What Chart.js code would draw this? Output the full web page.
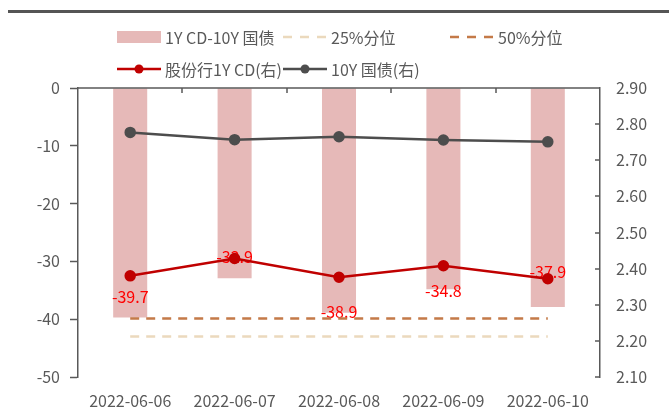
<!DOCTYPE html>
<html>
<head>
<meta charset="utf-8">
<script src="https://cdn.jsdelivr.net/npm/chart.js@4"></script>
<style>
  body { margin: 0; background: #fff; font-family: "Noto Sans CJK SC", "Noto Sans", sans-serif; }
  #wrap { position: relative; width: 669px; height: 408px; overflow: hidden; }
  canvas { position: absolute; left: 0; top: 0; }
  #topline { position: absolute; left: 8px; top: 10px; width: 661px; height: 3px; background: #555; }
  .leg { position: absolute; display: flex; align-items: center; font-size: 16px; color: #595959; white-space: nowrap; height: 20px; }
  .leg svg { margin-right: 4px; }
</style>
</head>
<body>
<div id="wrap">
  <canvas id="chart" width="669" height="408"></canvas>
  <div id="topline"></div>
  <div id="legend"></div>
</div>
<script>
// categories and values
const dates = ["2022-06-06", "2022-06-07", "2022-06-08", "2022-06-09", "2022-06-10"];
const spread = [-39.7, -32.9, -38.9, -34.8, -37.9];     // 1Y CD - 10Y 国债 (bp)
const pct25 = [-43.0, -43.0, -43.0, -43.0, -43.0];
const pct50 = [-39.9, -39.9, -39.9, -39.9, -39.9];
const cd1y = [2.380, 2.428, 2.376, 2.408, 2.372];       // 股份行1Y CD (右)
const cgb10y = [2.777, 2.757, 2.765, 2.756, 2.751];     // 10Y 国债 (右)
const names = ["1Y CD-10Y 国债", "25%分位", "50%分位", "股份行1Y CD(右)", "10Y 国债(右)"];

const axisColor = "#595959";
const fontFamily = '"Noto Sans CJK SC", "Noto Sans", sans-serif';

// hand-placed label offsets (px) relative to bar end, like the original
const labelShift = [-21, -21, -1, 2, -35];

const decor = {
  id: "decor",
  afterDatasetDraw(chart, args) {
    if (args.index !== 0) return;
    const ctx = chart.ctx;
    const meta = chart.getDatasetMeta(0);
    ctx.save();
    ctx.fillStyle = "#FF0000";
    ctx.font = "16px " + fontFamily;
    ctx.textAlign = "center";
    ctx.textBaseline = "middle";
    meta.data.forEach((el, i) => {
      ctx.fillText(spread[i].toFixed(1), el.x, el.y + labelShift[i]);
    });
    ctx.restore();
  },
  afterDraw(chart) {
    const ctx = chart.ctx;
    const a = chart.chartArea;
    const x = chart.scales.x;
    const y1 = chart.scales.y1;
    ctx.save();
    ctx.strokeStyle = axisColor;
    ctx.lineWidth = 1.5;
    // category axis line along the top (value 0)
    ctx.beginPath();
    ctx.moveTo(a.left, a.top);
    ctx.lineTo(a.right, a.top);
    // tick marks between categories, pointing down
    for (let i = 1; i < dates.length; i++) {
      const px = Math.round((x.getPixelForValue(i - 1) + x.getPixelForValue(i)) / 2);
      ctx.moveTo(px, a.top);
      ctx.lineTo(px, a.top + 5);
    }
    // inward ticks on the right axis
    y1.ticks.forEach(t => {
      const py = Math.round(y1.getPixelForValue(t.value));
      ctx.moveTo(a.right - 5, py);
      ctx.lineTo(a.right, py);
    });
    ctx.stroke();
    ctx.restore();
  }
};

const ctx = document.getElementById("chart").getContext("2d");
const chart = new Chart(ctx, {
  data: {
    labels: dates,
    datasets: [
      {
        type: "bar",
        label: names[0],
        data: spread,
        backgroundColor: "#E6B9B8",
        yAxisID: "y",
        categoryPercentage: 1,
        barPercentage: 0.326,
        order: 5
      },
      {
        type: "line",
        label: names[1],
        data: pct25,
        borderColor: "#EBD9BD",
        borderWidth: 2.5,
        borderDash: [9, 7],
        pointRadius: 0,
        yAxisID: "y",
        order: 3
      },
      {
        type: "line",
        label: names[2],
        data: pct50,
        borderColor: "#C47A48",
        borderWidth: 2.5,
        borderDash: [9, 7],
        pointRadius: 0,
        yAxisID: "y",
        order: 3
      },
      {
        type: "line",
        label: names[3],
        data: cd1y,
        borderColor: "#C00000",
        backgroundColor: "#C00000",
        borderWidth: 2.5,
        pointRadius: 4.5,
        pointBackgroundColor: "#C00000",
        pointBorderColor: "#C00000",
        yAxisID: "y1",
        order: 1
      },
      {
        type: "line",
        label: names[4],
        data: cgb10y,
        borderColor: "#4D4D4D",
        backgroundColor: "#4D4D4D",
        borderWidth: 2.5,
        pointRadius: 4.5,
        pointBackgroundColor: "#4D4D4D",
        pointBorderColor: "#4D4D4D",
        yAxisID: "y1",
        order: 1
      }
    ]
  },
  options: {
    responsive: false,
    animation: false,
    layout: { padding: { top: 88, left: 0, right: 0, bottom: 0 } },
    plugins: {
      legend: { display: false },
      tooltip: { enabled: false }
    },
    scales: {
      x: {
        position: "bottom",
        grid: { display: false, drawTicks: false },
        border: { display: false },
        ticks: {
          color: axisColor,
          font: { size: 16, family: fontFamily },
          padding: 14,
          maxRotation: 0,
          autoSkip: false
        },
        afterFit: s => { s.height = 31; }
      },
      y: {
        position: "left",
        min: -50,
        max: 0,
        ticks: {
          stepSize: 10,
          color: axisColor,
          font: { size: 16, family: fontFamily },
          padding: 10
        },
        grid: { drawOnChartArea: false, tickLength: 8, color: axisColor, tickWidth: 1.5 },
        border: { color: axisColor, width: 1.5 },
        afterFit: s => { s.width = 78; }
      },
      y1: {
        position: "right",
        min: 2.1,
        max: 2.9,
        ticks: {
          stepSize: 0.1,
          color: axisColor,
          font: { size: 16, family: fontFamily },
          padding: 16,
          callback: v => Number(v).toFixed(2)
        },
        grid: { display: false, drawTicks: false },
        border: { color: axisColor, width: 1.5 },
        afterFit: s => { s.width = 69; }
      }
    }
  },
  plugins: [decor]
});

// legend laid out in columns like the original
const legendPos = [
  { left: 117, top: 27 }, { left: 283, top: 27 }, { left: 450, top: 27 },
  { left: 117, top: 59 }, { left: 283, top: 59 }
];
function swatch(ds) {
  if (ds.type === "bar") {
    return '<svg width="44" height="12"><rect x="0" y="0" width="44" height="12" fill="' + ds.backgroundColor + '"/></svg>';
  }
  if (ds.borderDash) {
    return '<svg width="44" height="12"><line x1="0" y1="6" x2="44" y2="6" stroke="' + ds.borderColor +
      '" stroke-width="2.5" stroke-dasharray="9,8"/></svg>';
  }
  return '<svg width="44" height="12"><line x1="0" y1="6" x2="44" y2="6" stroke="' + ds.borderColor +
    '" stroke-width="2.5"/><circle cx="22" cy="6" r="4.5" fill="' + ds.borderColor + '"/></svg>';
}
const legend = document.getElementById("legend");
chart.data.datasets.forEach((ds, i) => {
  const d = document.createElement("div");
  d.className = "leg";
  d.style.left = legendPos[i].left + "px";
  d.style.top = legendPos[i].top + "px";
  d.innerHTML = swatch(ds) + "<span>" + ds.label + "</span>";
  legend.appendChild(d);
});
</script>
</body>
</html>
